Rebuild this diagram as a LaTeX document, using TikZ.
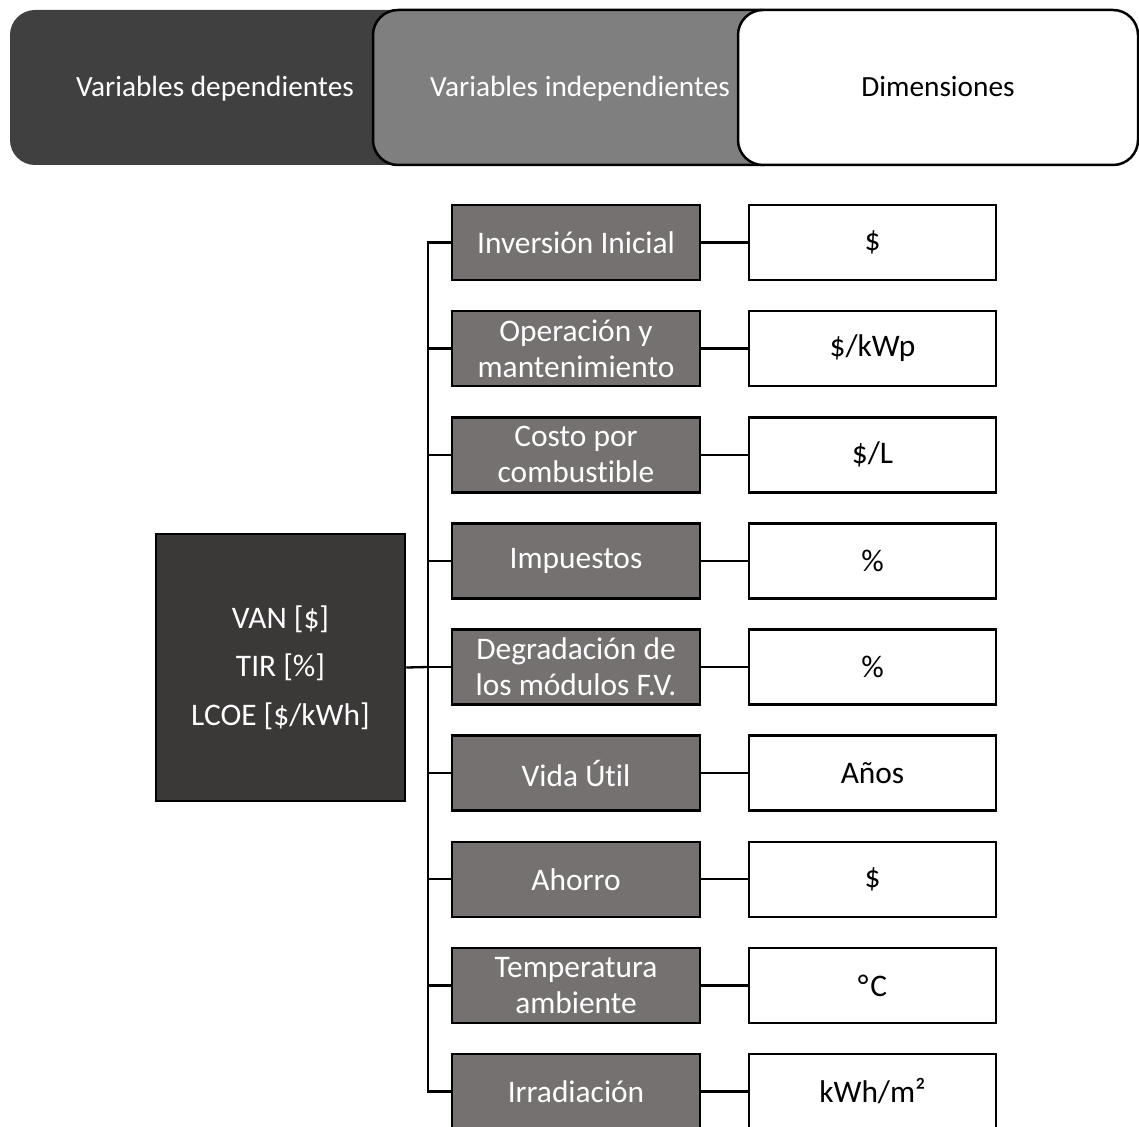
\documentclass[tikz,border=0pt]{standalone}
\usepackage{fontspec}
\setmainfont{Carlito}[Ligatures=NoCommon]
\definecolor{topdark}{HTML}{404040}
\definecolor{topgray}{HTML}{7F7F7F}
\definecolor{depbox}{HTML}{3B3838}
\definecolor{indbox}{HTML}{767171}
\newcommand\myTopFont{\fontsize{29.3pt}{35pt}\selectfont}
\newcommand\myBoxFont{\fontsize{31.4pt}{36pt}\selectfont}
\newcommand\noLig{\kern0pt}
\tikzset{
  band/.style={rectangle, rounded corners=25pt, line width=2.5pt, minimum height=155pt, inner sep=0pt, font=\myTopFont, text height=20pt, text depth=2pt},
  indep/.style={rectangle, draw=black, fill=indbox, text=white, line width=2.5pt, minimum width=248pt, minimum height=75pt, inner sep=0pt, align=center, font=\myBoxFont},
  dimbox/.style={rectangle, draw=black, fill=white, text=black, line width=2.5pt, minimum width=247pt, minimum height=75pt, inner sep=0pt, align=center, font=\myBoxFont},
  link/.style={draw=black, line width=2.3pt}
}
\begin{document}
\begin{tikzpicture}[x=1pt,y=-1pt]
\useasboundingbox (0,0) rectangle (1139,1126);
% top bands
\node[band, fill=topdark, draw=none, text=white, minimum width=410pt] (t1) at (215,87.5) {Variables dependient\noLig es};
\node[band, fill=topgray, draw=black, text=white, minimum width=414pt] (t2) at (580,87.5) {Variables independient\noLig es};
\node[band, fill=white, draw=black, text=black, minimum width=400pt] (t3) at (938,87.5) {Dimensiones};
% dependent variables
\node[rectangle, draw=black, fill=depbox, text=white, line width=2.5pt, minimum width=249pt, minimum height=267pt, inner sep=0pt, align=center, font=\fontsize{31.4pt}{48.5pt}\selectfont] (dep) at (280.5,667.5) {VAN [\$]\\TIR [\%]\\LCOE [\$/kWh]};
% independent variables
\node[indep] (g1) at (576,242.5) {Inversión Inicial};
\node[indep] (g2) at (576,348.6) {Operación y\\mantenimiento};
\node[indep] (g3) at (576,454.75) {Costo por\\combust\noLig ible};
\node[indep] (g4) at (576,560.9) {Impuestos};
\node[indep] (g5) at (576,667) {Degradación de\\los módulos F.V.};
\node[indep] (g6) at (576,773.1) {Vida Út\noLig il};
\node[indep] (g7) at (576,879.25) {Ahorro};
\node[indep] (g8) at (576,985.4) {Temperatura\\ambiente};
\node[indep] (g9) at (576,1091.5) {Irradiación};
% dimensions
\node[dimbox] (d1) at (872.5,242.5) {\$};
\node[dimbox] (d2) at (872.5,348.6) {\$/kWp};
\node[dimbox] (d3) at (872.5,454.75) {\$/L};
\node[dimbox] (d4) at (872.5,560.9) {\%};
\node[dimbox] (d5) at (872.5,667) {\%};
\node[dimbox] (d6) at (872.5,773.1) {Años};
\node[dimbox] (d7) at (872.5,879.25) {\$};
\node[dimbox] (d8) at (872.5,985.4) {°\kern2pt C};
\node[dimbox] (d9) at (872.5,1091.5) {kWh/m²};
% trunk
\coordinate (trunk) at (428,667);
\draw[link] (g1.west) -- (g1.west -| trunk) -- (g9.west -| trunk) -- (g9.west);
\draw[link] (dep.east) -- (trunk);
\foreach \i in {2,...,8} {
  \draw[link] (g\i.west -| trunk) -- (g\i.west);
}
\foreach \i in {1,...,9} {
  \draw[link] (g\i.east) -- (d\i.west);
}
\end{tikzpicture}
\end{document}
